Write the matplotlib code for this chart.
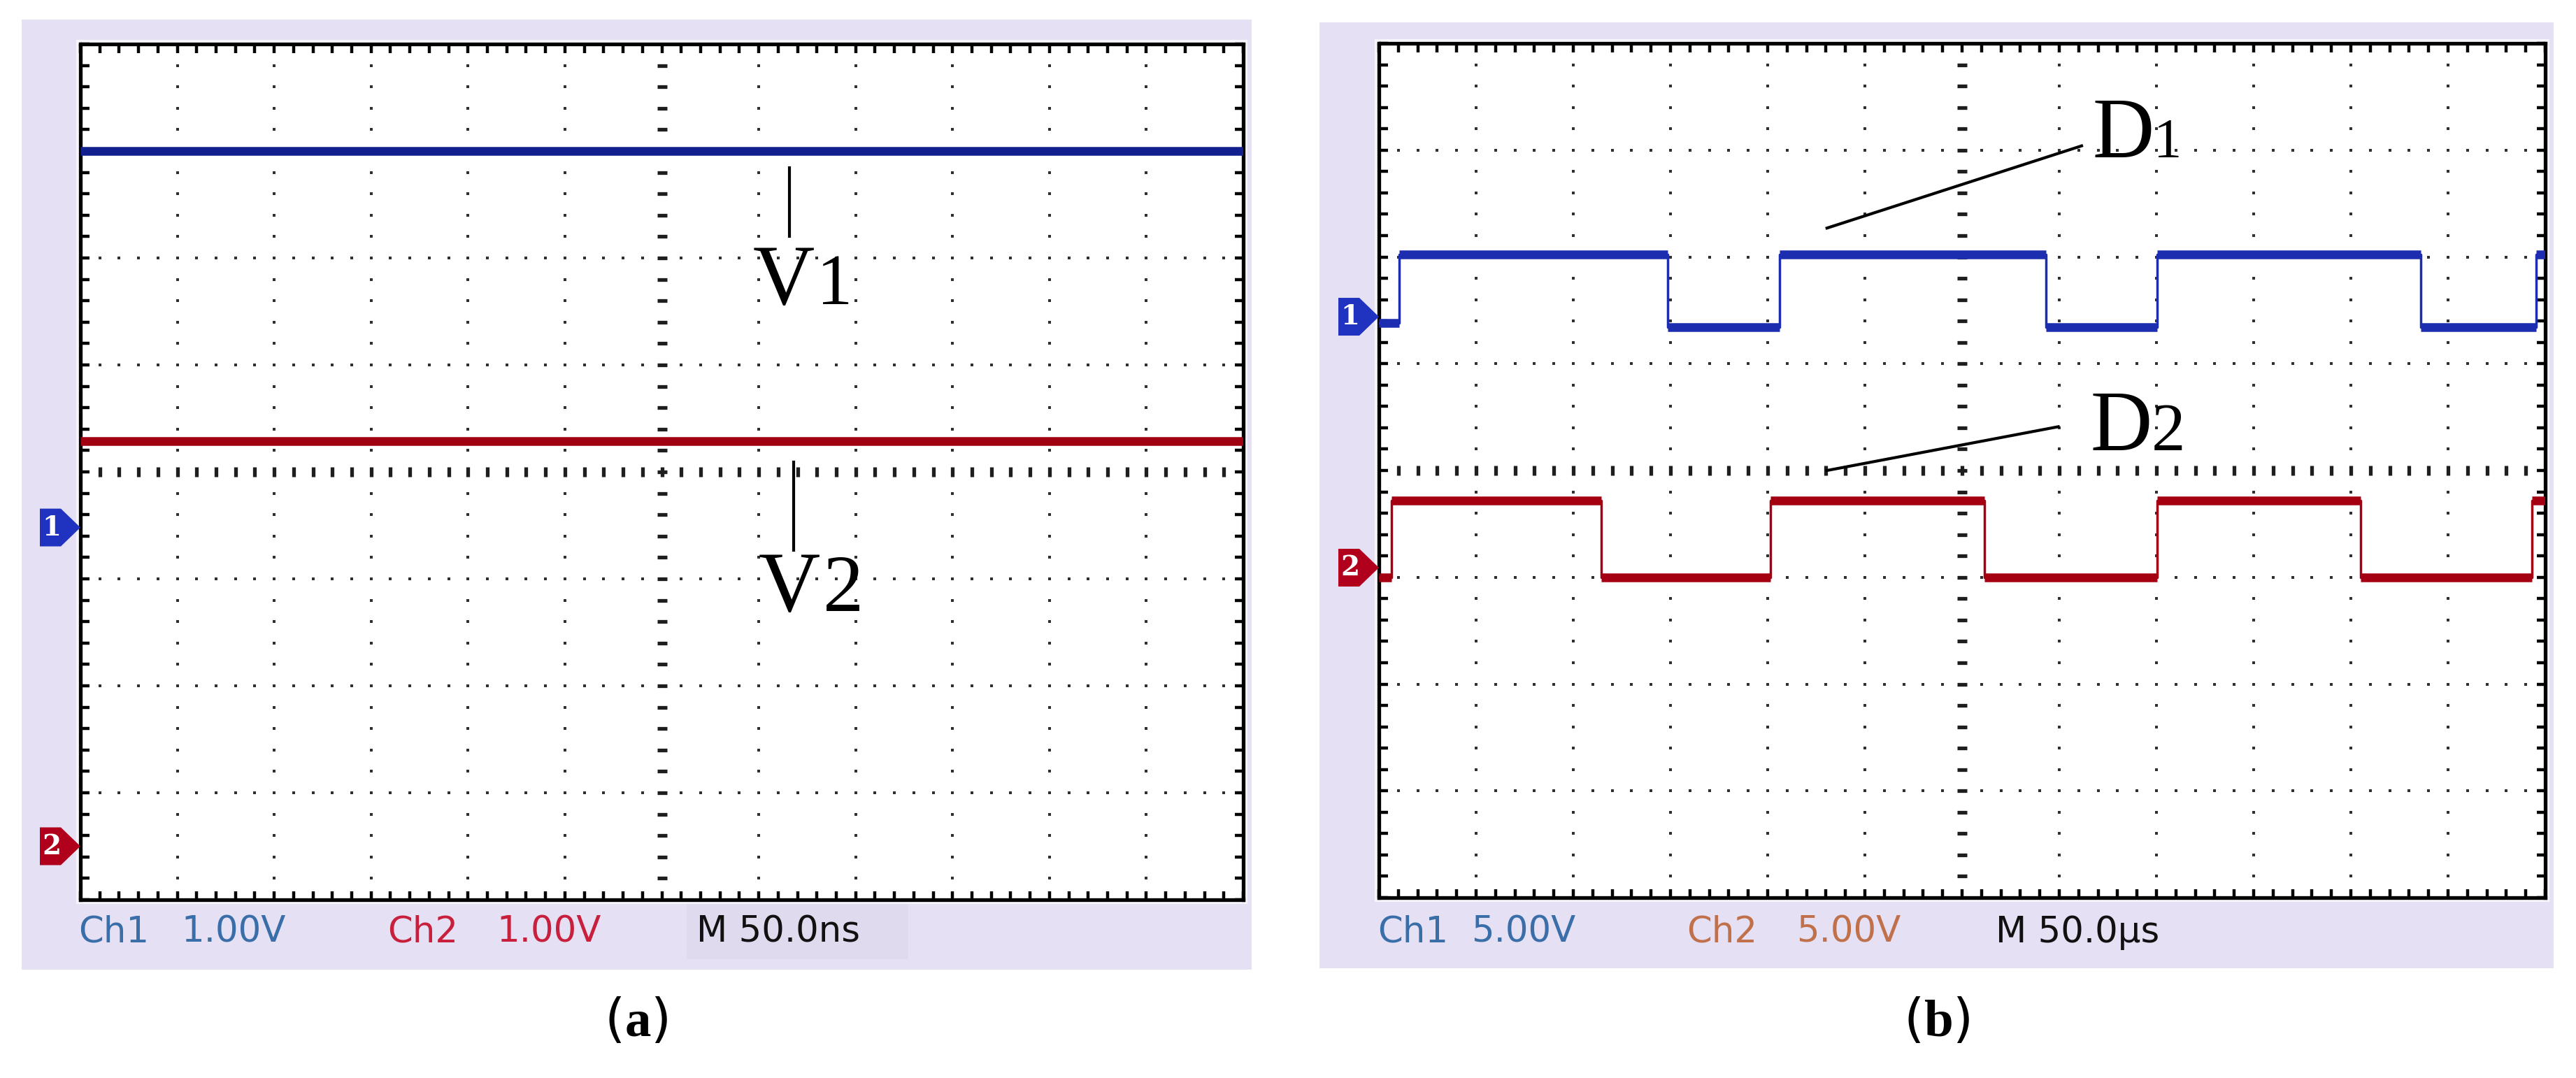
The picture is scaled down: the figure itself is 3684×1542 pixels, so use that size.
import numpy as np
import matplotlib.pyplot as plt
from matplotlib.patches import Rectangle, Polygon

plt.rcParams["mathtext.fontset"] = "custom"
plt.rcParams["mathtext.rm"] = "Liberation Serif"
plt.rcParams["mathtext.bf"] = "Liberation Serif:bold"

# ---- data (x in divisions 0..12, y in divisions -4..4)
a_x = [0, 12]
a_v1 = [3.0, 3.0]
a_v2 = [0.29, 0.29]
a_gnd = [-0.52, -3.5]          # channel 1 / channel 2 ground markers

b_d1_edges = [0, 0.21, 2.97, 4.12, 6.86, 8.01, 10.72, 11.91, 12]
b_d1_levels = [1.38, 2.02, 1.34, 2.02, 1.34, 2.02, 1.34, 2.02]
b_d2_edges = [0, 0.13, 2.29, 4.03, 6.23, 8.01, 10.10, 11.86, 12]
b_d2_levels = [-1.0, -0.28, -1.0, -0.28, -1.0, -0.28, -1.0, -0.28]
b_gnd = [1.44, -0.91]

a_status = ["Ch1", "1.00V", "Ch2", "1.00V", "M 50.0ns"]
a_status_x = [112, 259, 554, 710, 996]
b_status = ["Ch1", "5.00V", "Ch2", "5.00V", "M 50.0\u00b5s"]
b_status_x = [1970, 2104, 2412, 2569, 2854]

W, H = 3684, 1542
LAV = "#e6e0f5"
BLUE_A, RED_A = "#12208f", "#a0000f"
BLUE_B, RED_B = "#1c2db0", "#a50012"
MK_BLUE, MK_RED = "#1f33c0", "#b0001c"
DOT = "#303030"

fig = plt.figure(figsize=(W / 100, H / 100), dpi=100)
fig.patch.set_facecolor("white")


def fx(px):
    return px / W


def fy(py):
    return 1 - py / H


def fig_rect(x0, y0, x1, y1, **kw):
    fig.patches.append(Rectangle((fx(x0), fy(y1)), (x1 - x0) / W, (y1 - y0) / H,
                                 transform=fig.transFigure, zorder=-5, **kw))


def screen(x0, y0, x1, y1):
    ax = fig.add_axes([fx(x0), fy(y1), (x1 - x0) / W, (y1 - y0) / H])
    ax.set_zorder(2)
    ax.set_xlim(0, 12)
    ax.set_ylim(-4, 4)
    ax.set_facecolor("white")
    ax.set_xticks(np.arange(0, 12.001, 0.2))
    ax.set_yticks(np.arange(-4, 4.001, 0.2))
    ax.tick_params(direction="in", length=9, width=3.2, top=True, right=True,
                   labelbottom=False, labelleft=False, color="black")
    for s in ax.spines.values():
        s.set_linewidth(3.8)
    mx = np.arange(0.2, 11.9, 0.2)
    my = np.arange(-3.8, 3.9, 0.2)
    for gx in range(1, 12):
        if gx == 6:
            continue
        ax.plot(np.full(len(my), gx), my, ls="none", marker="s", ms=3.4, mew=0, color=DOT, zorder=1)
    for gy in range(-3, 4):
        if gy == 0:
            continue
        ax.plot(mx, np.full(len(mx), gy), ls="none", marker="s", ms=3.4, mew=0, color=DOT, zorder=1)
    ax.plot(np.full(len(my), 6), my, ls="none", marker="_", ms=10, mew=3.8, color="#1e1e1e", zorder=1)
    ax.plot(mx, np.zeros(len(mx)), ls="none", marker="|", ms=10, mew=3.8, color="#1e1e1e", zorder=1)
    return ax


def gnd_marker(ax, y, label, color):
    pos = ax.get_position()
    sx = 12 / (pos.width * W)
    sy = 8 / (pos.height * H)
    pts = [(-58, -27), (-28, -27), (0, 0), (-28, 27), (-58, 27)]
    ax.add_patch(Polygon([(px * sx, y + py * sy) for px, py in pts], closed=True,
                         fc=color, ec="none", clip_on=False, zorder=5))
    ax.text(-41 * sx, y, label, color="white", fontsize=28, fontweight="bold",
            ha="center", va="center", clip_on=False, zorder=6, family="DejaVu Serif")


def square(ax, edges, levels, color):
    xs = np.repeat(edges, 2)[1:-1]
    ys = np.repeat(levels, 2)
    ax.plot(xs, ys, color=color, lw=2.5, zorder=3)
    ax.hlines(levels, edges[:-1], edges[1:], colors=color, lw=9, zorder=3)


def tag(ax, x, y, letter, digit, dx, dsize):
    ax.text(x, y, letter, fontsize=88, family="Liberation Serif", va="baseline", ha="left", zorder=4)
    ax.text(x + dx, y, digit, fontsize=dsize, family="Liberation Serif", va="baseline", ha="left", zorder=4)


# lavender frames of the two screenshots
fig_rect(31, 28, 1790, 1387, fc=LAV, ec="none")
fig_rect(1887, 32, 3652, 1385, fc=LAV, ec="none")
fig_rect(982, 1290, 1299, 1372, fc="#e0daee", ec="none")
fig_rect(111, 59, 1782, 1291, fc="none", ec="#f7f5fc", lw=3)
fig_rect(1968, 58, 3644, 1288, fc="none", ec="#f7f5fc", lw=3)

# ---- (a)
ax_a = screen(115, 63, 1778, 1287)
ax_a.plot(a_x, a_v1, color=BLUE_A, lw=9, solid_capstyle="butt", zorder=3)
ax_a.plot(a_x, a_v2, color=RED_A, lw=9, solid_capstyle="butt", zorder=3)
gnd_marker(ax_a, a_gnd[0], "1", MK_BLUE)
gnd_marker(ax_a, a_gnd[1], "2", MK_RED)
ax_a.plot([7.32, 7.32], [2.84, 2.2], color="black", lw=3, zorder=4)
ax_a.plot([7.36, 7.36], [0.09, -0.73], color="black", lw=3, zorder=4)
tag(ax_a, 6.94, 1.57, "V", "1", 0.66, 74)
tag(ax_a, 7.0, -1.30, "V", "2", 0.66, 84)

# ---- (b)
ax_b = screen(1972, 62, 3640, 1284)
square(ax_b, b_d1_edges, b_d1_levels, BLUE_B)
square(ax_b, b_d2_edges, b_d2_levels, RED_B)
gnd_marker(ax_b, b_gnd[0], "1", MK_BLUE)
gnd_marker(ax_b, b_gnd[1], "2", MK_RED)
ax_b.plot([4.61, 7.23], [2.27, 3.04], color="black", lw=3, zorder=4)
ax_b.plot([4.61, 6.99], [0.0, 0.41], color="black", lw=3, zorder=4)
tag(ax_b, 7.34, 2.93, "D", "1", 0.63, 58)
tag(ax_b, 7.32, 0.19, "D", "2", 0.63, 70)

# ---- status bars
a_cols = ["#3a6ea8", "#3a6ea8", "#c8203c", "#c8203c", "#111111"]
b_cols = ["#3a6ea8", "#3a6ea8", "#c0704a", "#c0704a", "#111111"]
for s, x, c in zip(a_status, a_status_x, a_cols):
    fig.text(fx(x), fy(1334), s, color=c, fontsize=37, va="center", ha="left", family="DejaVu Sans")
for s, x, c in zip(b_status, b_status_x, b_cols):
    fig.text(fx(x), fy(1334), s, color=c, fontsize=37, va="center", ha="left", family="DejaVu Sans")

# ---- panel captions
fig.text(fx(910), fy(1462), r"($\mathbf{a}$)", fontsize=54, ha="center", va="center")
fig.text(fx(2770), fy(1462), r"($\mathbf{b}$)", fontsize=54, ha="center", va="center")

fig.savefig("out.png", dpi=100, facecolor="white")
